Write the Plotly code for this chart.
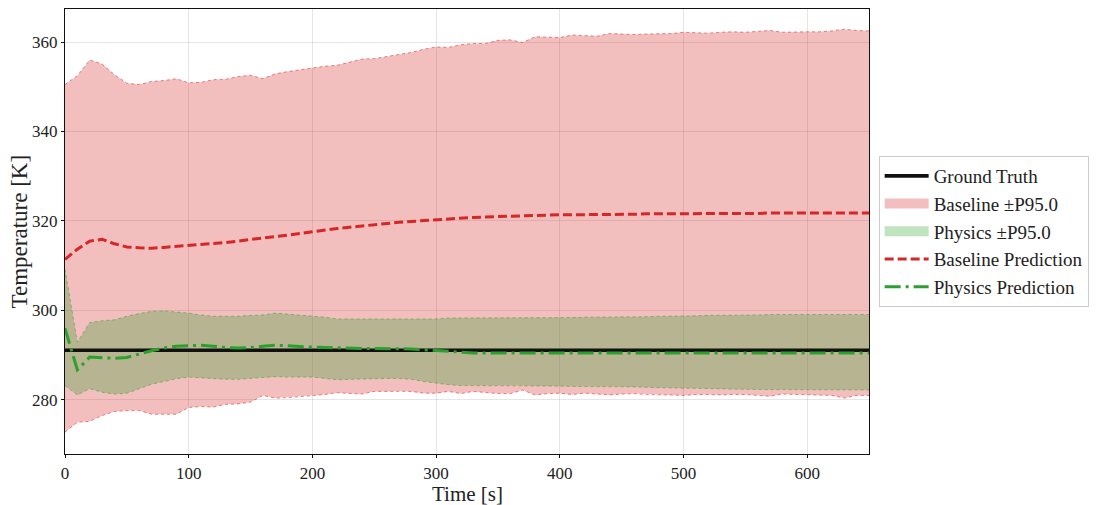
import plotly.graph_objects as go

time_s = list(range(0, 660, 10))

ground_truth = [291.1] * len(time_s)

baseline_upper = [350.5, 352.5, 356.0, 355.1, 352.7, 350.8, 350.5, 351.2, 351.4, 351.8,
                  350.9, 351.0, 351.6, 351.7, 352.3, 352.6, 351.8, 352.9, 353.4, 353.8,
                  354.3, 354.6, 354.8, 355.5, 356.2, 356.3, 356.8, 357.2, 357.7, 358.4,
                  358.9, 358.8, 359.4, 359.7, 359.7, 360.4, 360.5, 359.9, 361.2, 361.1,
                  361.0, 361.6, 361.5, 361.3, 361.9, 361.8, 361.7, 361.8, 361.9, 361.9,
                  362.2, 362.1, 362.0, 362.2, 362.3, 362.2, 362.4, 362.6, 362.2, 362.3,
                  362.3, 362.3, 362.5, 362.9, 362.6, 362.5]

baseline_lower = [272.8, 275.0, 275.2, 276.5, 277.4, 277.6, 277.6, 276.8, 276.8, 276.8,
                  278.3, 278.5, 278.4, 279.0, 279.1, 279.5, 281.0, 280.4, 280.5, 280.7,
                  281.0, 281.2, 281.6, 281.5, 281.3, 281.9, 281.9, 282.0, 281.9, 281.5,
                  281.5, 281.9, 281.4, 281.9, 281.6, 281.4, 281.4, 282.2, 281.1, 281.4,
                  281.5, 281.2, 281.5, 281.3, 281.1, 281.3, 281.4, 281.2, 281.2, 281.1,
                  281.0, 281.2, 281.2, 281.1, 281.2, 281.2, 281.0, 280.8, 281.3, 281.2,
                  281.1, 281.1, 281.0, 280.4, 281.0, 281.0]

physics_upper = [309.2, 292.9, 297.3, 297.7, 297.9, 298.7, 299.3, 299.8, 299.9, 299.7,
                 299.4, 299.0, 298.7, 298.7, 298.7, 298.9, 299.0, 299.4, 299.2, 299.0,
                 298.8, 298.5, 298.1, 298.1, 298.2, 298.2, 298.2, 298.2, 298.2, 298.1,
                 298.1, 298.3, 298.3, 298.3, 298.3, 298.3, 298.4, 298.4, 298.4, 298.4,
                 298.4, 298.4, 298.5, 298.5, 298.5, 298.6, 298.6, 298.6, 298.7, 298.7,
                 298.8, 298.8, 298.9, 298.9, 299.0, 299.0, 299.0, 299.1, 299.1, 299.1,
                 299.1, 299.1, 299.1, 299.1, 299.1, 299.1]

physics_lower = [283.2, 281.1, 282.5, 281.7, 281.3, 281.5, 282.5, 283.5, 284.1, 284.7,
                 285.1, 284.9, 284.7, 284.6, 284.6, 284.8, 285.0, 285.2, 285.1, 285.1,
                 285.1, 284.8, 284.5, 284.6, 284.7, 284.7, 284.8, 284.8, 284.6, 284.1,
                 283.7, 283.4, 283.2, 283.2, 283.2, 283.2, 283.2, 283.2, 283.1, 283.1,
                 283.1, 283.0, 283.0, 283.0, 283.0, 282.9, 282.9, 282.8, 282.7, 282.7,
                 282.6, 282.6, 282.5, 282.5, 282.4, 282.4, 282.3, 282.3, 282.3, 282.3,
                 282.2, 282.2, 282.2, 282.2, 282.2, 282.2]

baseline_pred = [311.4, 313.7, 315.5, 315.9, 314.9, 314.2, 314.0, 313.9, 314.1, 314.3,
                 314.6, 314.8, 315.0, 315.2, 315.5, 315.9, 316.2, 316.5, 316.8, 317.2,
                 317.6, 318.0, 318.3, 318.6, 318.9, 319.2, 319.5, 319.7, 319.9, 320.1,
                 320.3, 320.5, 320.7, 320.8, 320.9, 321.0, 321.1, 321.2, 321.3, 321.3,
                 321.4, 321.4, 321.4, 321.5, 321.5, 321.5, 321.5, 321.6, 321.6, 321.6,
                 321.6, 321.7, 321.7, 321.7, 321.7, 321.7, 321.7, 321.8, 321.8, 321.8,
                 321.8, 321.8, 321.8, 321.8, 321.8, 321.8]

physics_pred = [296.0, 286.7, 289.6, 289.5, 289.3, 289.5, 290.3, 291.0, 291.6, 292.0,
                292.1, 292.2, 292.0, 291.7, 291.6, 291.7, 292.0, 292.2, 292.1, 291.9,
                291.8, 291.7, 291.6, 291.5, 291.5, 291.5, 291.5, 291.5, 291.4, 291.2,
                291.0, 290.8, 290.6, 290.5, 290.5, 290.5, 290.5, 290.5, 290.5, 290.5,
                290.5, 290.5, 290.5, 290.5, 290.5, 290.5, 290.5, 290.5, 290.5, 290.5,
                290.5, 290.5, 290.5, 290.5, 290.5, 290.5, 290.5, 290.5, 290.5, 290.5,
                290.5, 290.5, 290.5, 290.5, 290.5, 290.5]

x_ticks = [0, 100, 200, 300, 400, 500, 600]
y_ticks = [280, 300, 320, 340, 360]

RED = "#d62728"
GREEN = "#2ca02c"
RED_FILL = "rgba(214,39,40,0.3)"
GREEN_FILL = "rgba(44,160,44,0.3)"
FONT = "Liberation Serif"

fig = go.Figure()

# Baseline band
fig.add_trace(go.Scatter(x=time_s + time_s[::-1], y=baseline_upper + baseline_lower[::-1],
                         mode="lines", fill="toself", fillcolor=RED_FILL,
                         line=dict(width=0, color=RED_FILL), showlegend=False))
fig.add_trace(go.Scatter(x=time_s, y=baseline_upper, mode="lines", showlegend=False,
                         line=dict(color="rgba(214,39,40,0.55)", width=1, dash="dot")))
fig.add_trace(go.Scatter(x=time_s, y=baseline_lower, mode="lines", showlegend=False,
                         line=dict(color="rgba(214,39,40,0.55)", width=1, dash="dot")))

# Physics band
fig.add_trace(go.Scatter(x=time_s + time_s[::-1], y=physics_upper + physics_lower[::-1],
                         mode="lines", fill="toself", fillcolor=GREEN_FILL,
                         line=dict(width=0, color=GREEN_FILL), showlegend=False))
fig.add_trace(go.Scatter(x=time_s, y=physics_upper, mode="lines", showlegend=False,
                         line=dict(color="rgba(44,160,44,0.5)", width=1, dash="dot")))
fig.add_trace(go.Scatter(x=time_s, y=physics_lower, mode="lines", showlegend=False,
                         line=dict(color="rgba(44,160,44,0.5)", width=1, dash="dot")))

# Legend entries for the bands (swatches)
fig.add_trace(go.Scatter(x=[None], y=[None], mode="lines", name="Baseline ±P95.0",
                         line=dict(color="rgb(243,190,191)", width=15), legendrank=2))
fig.add_trace(go.Scatter(x=[None], y=[None], mode="lines", name="Physics ±P95.0",
                         line=dict(color="rgb(192,227,192)", width=15), legendrank=3))

fig.add_trace(go.Scatter(x=time_s, y=ground_truth, mode="lines", name="Ground Truth",
                         line=dict(color="#111111", width=3.6), legendrank=1))

fig.add_trace(go.Scatter(x=time_s, y=baseline_pred, mode="lines", name="Baseline Prediction",
                         line=dict(color=RED, width=3, dash="9px,4px"), legendrank=4))
fig.add_trace(go.Scatter(x=time_s, y=physics_pred, mode="lines", name="Physics Prediction",
                         line=dict(color=GREEN, width=3, dash="16px,5px,3px,5px"), legendrank=5))

axis_common = dict(
    showline=True, linecolor="#111111", linewidth=1.2, mirror=True,
    showgrid=True, gridcolor="rgba(0,0,0,0.10)", gridwidth=1,
    ticks="outside", ticklen=3, tickcolor="#111111", tickwidth=1,
    zeroline=False,
    tickfont=dict(family=FONT, size=17, color="#222222"),
)

fig.update_layout(
    width=1096, height=505,
    margin=dict(l=65, r=227, t=9, b=51, autoexpand=False),
    paper_bgcolor="white", plot_bgcolor="white",
    font=dict(family=FONT, color="#222222"),
    xaxis=dict(range=[0, 650], tickvals=x_ticks, automargin=False, **axis_common),
    yaxis=dict(range=[267.9, 367.4], tickvals=y_ticks, automargin=False, **axis_common),
    legend=dict(x=1.012, y=0.5, xanchor="left", yanchor="middle",
                bgcolor="rgba(255,255,255,0.9)", bordercolor="#cccccc", borderwidth=1,
                font=dict(family=FONT, size=19, color="#222222"),
                itemwidth=44, tracegroupgap=2),
    showlegend=True,
    annotations=[
        dict(text="Time [s]", xref="paper", yref="paper", x=0.5, y=-0.089,
             xanchor="center", yanchor="middle", showarrow=False,
             font=dict(family=FONT, size=21, color="#222222")),
        dict(text="Temperature [K]", xref="paper", yref="paper", x=-0.056, y=0.5,
             xanchor="center", yanchor="middle", showarrow=False, textangle=-90,
             font=dict(family=FONT, size=23, color="#222222")),
    ],
)

fig.write_html(
    "out.html",
    config={"displayModeBar": False},
    post_script="document.body.style.margin='0';document.body.style.overflow='hidden';",
)
